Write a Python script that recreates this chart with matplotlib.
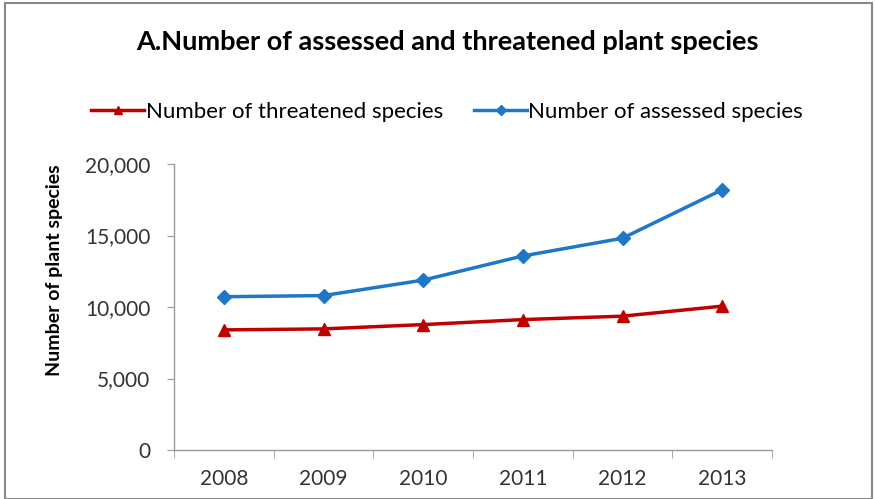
import matplotlib
matplotlib.use("Agg")
import matplotlib.pyplot as plt
from matplotlib.patches import Rectangle
from matplotlib.ticker import FuncFormatter, FixedLocator

plt.rcParams['font.family'] = ['Lato', 'DejaVu Sans']

years = ["2008", "2009", "2010", "2011", "2012", "2013"]
threatened = [8400, 8470, 8770, 9120, 9360, 10060]
assessed = [10720, 10800, 11880, 13570, 14810, 18200]

fig = plt.figure(figsize=(8.75, 4.99), dpi=100)
ax = fig.add_axes([0.1989, 0.0982, 0.6834, 0.5731])

x = list(range(len(years)))
ax.plot(x, threatened, color="#C00000", lw=2.5, marker="^", ms=8,
        label="Number of threatened species")
ax.plot(x, assessed, color="#1F77C8", lw=2.5, marker="D", ms=7,
        label="Number of assessed species")

ax.set_xlim(-0.5, len(years) - 0.5)
ax.set_ylim(0, 20000)
ax.set_yticks([0, 5000, 10000, 15000, 20000])
ax.yaxis.set_major_formatter(FuncFormatter(lambda v, p: f"{int(v):,}"))
ax.set_xticks(x)
ax.set_xticklabels(years)
ax.xaxis.set_minor_locator(FixedLocator([i - 0.5 for i in range(len(years) + 1)]))
ax.tick_params(axis="x", which="major", length=0, pad=14, labelsize=15, labelcolor="#333333")
ax.tick_params(axis="x", which="minor", length=6, color="#999999", direction="out")
ax.tick_params(axis="y", length=5, color="#999999", labelsize=15, pad=12, labelcolor="#333333")

for s in ["top", "right"]:
    ax.spines[s].set_visible(False)
for s in ["left", "bottom"]:
    ax.spines[s].set_color("#999999")
    ax.spines[s].set_linewidth(1)

ax.set_ylabel("Number of plant species", fontsize=14, fontweight="bold")
ax.yaxis.set_label_coords(-0.186, 0.629)

fig.text(0.511, 0.915, "A.Number of assessed and threatened plant species",
         ha="center", va="center", fontsize=19.5, fontweight="bold")

handles, labels = ax.get_legend_handles_labels()
fig.legend(handles, labels, loc="center", bbox_to_anchor=(0.511, 0.776), ncol=2,
           frameon=False, fontsize=16, handlelength=2.4, columnspacing=1.4,
           handletextpad=0.05, markerscale=0.8)

fig.patches.append(Rectangle((0.006, 0.0), 0.99, 0.994, transform=fig.transFigure,
                             fill=False, edgecolor="#888888", lw=1.5))

fig.savefig("out.png", dpi=100, facecolor="white")
